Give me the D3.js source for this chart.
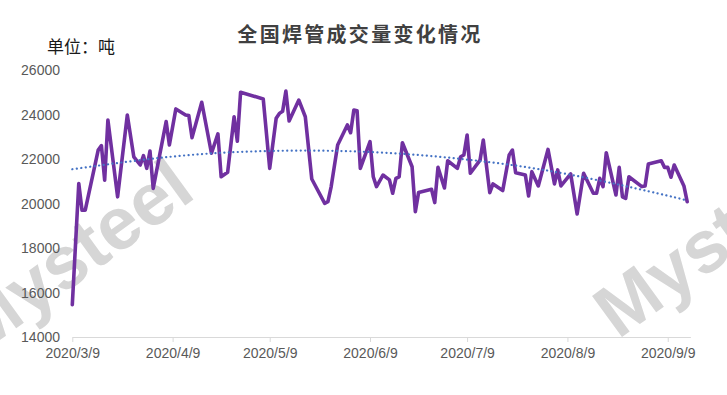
<!DOCTYPE html>
<html>
<head>
<meta charset="utf-8">
<script src="https://cdn.jsdelivr.net/npm/d3@7"></script>
<style>
  html, body { margin: 0; padding: 0; background: #ffffff; }
  svg { display: block; }
</style>
</head>
<body>
<div id="chart"></div>
<script>
// ---------- data ----------
const title = "全国焊管成交量变化情况";
const unitLabel = "单位：吨";
const watermark = "Mysteel";

const dates = [
  "2020-03-09","2020-03-11","2020-03-12","2020-03-13","2020-03-17","2020-03-18","2020-03-19","2020-03-20",
  "2020-03-23","2020-03-26","2020-03-28","2020-03-30","2020-03-31","2020-04-01","2020-04-02","2020-04-03",
  "2020-04-07","2020-04-08","2020-04-10","2020-04-13","2020-04-14","2020-04-15","2020-04-18","2020-04-21",
  "2020-04-23","2020-04-24","2020-04-26","2020-04-28","2020-04-29","2020-04-30","2020-05-07","2020-05-09",
  "2020-05-11","2020-05-12","2020-05-13","2020-05-14","2020-05-15","2020-05-18","2020-05-20","2020-05-22",
  "2020-05-26","2020-05-27","2020-05-28","2020-05-30","2020-06-02","2020-06-03","2020-06-04","2020-06-05",
  "2020-06-06","2020-06-09","2020-06-10","2020-06-11","2020-06-13","2020-06-15","2020-06-16","2020-06-17",
  "2020-06-18","2020-06-19","2020-06-22","2020-06-23","2020-06-24","2020-06-28","2020-06-29","2020-06-30",
  "2020-07-02","2020-07-03","2020-07-06","2020-07-07","2020-07-08","2020-07-09","2020-07-10","2020-07-13",
  "2020-07-14","2020-07-16","2020-07-17","2020-07-20","2020-07-22","2020-07-23","2020-07-24","2020-07-27",
  "2020-07-28","2020-07-29","2020-07-31","2020-08-03","2020-08-05","2020-08-06","2020-08-07","2020-08-10",
  "2020-08-12","2020-08-14","2020-08-17","2020-08-18","2020-08-19","2020-08-20","2020-08-21","2020-08-24",
  "2020-08-25","2020-08-26","2020-08-27","2020-08-28","2020-09-01","2020-09-02","2020-09-03","2020-09-07",
  "2020-09-08","2020-09-09","2020-09-10","2020-09-11","2020-09-14","2020-09-15"
];
const volumes = [
  15450,20900,19700,19700,22400,22600,21050,23750,
  20300,23980,22100,21730,22150,21580,22360,20680,
  23680,22630,24250,23980,23950,22960,24550,22260,
  23130,21200,21400,23900,22800,25000,24700,21580,
  23830,24050,24150,25050,23710,24650,23900,21100,
  20010,20080,20760,22630,23530,23180,24200,24170,
  21580,22780,21200,20760,21280,21060,20460,21130,
  21200,22730,21650,19630,20490,20640,20040,21625,
  20700,21920,21580,22100,22180,23080,21360,21950,
  22850,20490,20880,20580,22180,22400,21385,21280,
  20340,21430,20790,22430,20880,21510,20790,21330,
  19530,21360,20460,20460,21130,20760,22280,20380,
  21625,20300,20230,21200,20760,20790,21775,21920,
  21625,21625,21180,21730,20790,20080
];

// dotted trend line, read at several dates
const trendDates  = ["2020-03-09","2020-04-09","2020-05-09","2020-06-09","2020-07-09","2020-08-09","2020-09-09","2020-09-15"];
const trendValues = [21540,22110,22360,22315,21975,21320,20350,20120];

const yTicks = [14000,16000,18000,20000,22000,24000,26000];
const xTickDates = ["2020-03-09","2020-04-09","2020-05-09","2020-06-09","2020-07-09","2020-08-09","2020-09-09"];
const xDomain = ["2020-03-09","2020-09-16"];

// ---------- drawing ----------
const W = 727, H = 395;
const parse = d3.timeParse("%Y-%m-%d");
const fmt = d3.timeFormat("%Y/%-m/%-d");

const svg = d3.select("#chart").append("svg")
  .attr("width", W).attr("height", H)
  .style("font-family", "Arial, 'Liberation Sans', sans-serif");

const x = d3.scaleTime().domain(xDomain.map(parse)).range([72.3, 690.4]);
const y = d3.scaleLinear().domain([14000, 26000]).range([337, 70]);

// watermarks (behind everything)
const wm = svg.append("g").attr("fill", "#d6d6d6")
  .style("font-family", "Arial, 'Liberation Sans', sans-serif")
  .style("font-weight", "bold").style("font-size", "74px");
wm.append("text").attr("transform", "translate(-22,356) rotate(-36)").text(watermark);
wm.append("text").attr("transform", "translate(618,340) rotate(-36)").text(watermark);

// title
svg.append("text")
  .attr("x", 360).attr("y", 42)
  .attr("text-anchor", "middle")
  .style("font-family", "'Noto Sans CJK SC', sans-serif")
  .style("font-weight", "bold")
  .style("font-size", "20px")
  .style("letter-spacing", "2.3px")
  .attr("fill", "#404040")
  .text(title);

// unit label
svg.append("text")
  .attr("x", 47).attr("y", 53)
  .style("font-family", "'Noto Sans CJK SC', sans-serif")
  .style("font-size", "17px")
  .attr("fill", "#1a1a1a")
  .text(unitLabel);

// y axis (labels only)
const yAxis = d3.axisLeft(y).tickValues(yTicks).tickSize(0).tickPadding(0).tickFormat(d3.format("d"));
const gy = svg.append("g").attr("transform", "translate(60,0)").call(yAxis);
gy.select(".domain").remove();
gy.selectAll("text").style("font-size", "14px").style("font-family", "Arial, 'Liberation Sans', sans-serif")
  .attr("fill", "#595959").attr("dy", "0.35em");

// x axis
const xAxis = d3.axisBottom(x).tickValues(xTickDates.map(parse)).tickSize(5).tickSizeOuter(0).tickPadding(6).tickFormat(fmt);
const gx = svg.append("g").attr("transform", "translate(0,337)").call(xAxis);
gx.select(".domain").attr("stroke", "#d9d9d9").attr("stroke-width", 1);
gx.selectAll(".tick line").attr("stroke", "#d9d9d9");
gx.selectAll("text").style("font-size", "14px").style("font-family", "Arial, 'Liberation Sans', sans-serif")
  .attr("fill", "#595959");

// data line
const series = dates.map((d, i) => ({ date: parse(d), value: volumes[i] }));
const line = d3.line().x(d => x(d.date)).y(d => y(d.value));
svg.append("path").datum(series)
  .attr("d", line)
  .attr("fill", "none")
  .attr("stroke", "#7030A0")
  .attr("stroke-width", 3.6)
  .attr("stroke-linejoin", "round")
  .attr("stroke-linecap", "round");

// trend line
const trend = trendDates.map((d, i) => ({ date: parse(d), value: trendValues[i] }));
const tline = d3.line().curve(d3.curveNatural).x(d => x(d.date)).y(d => y(d.value));
svg.append("path").datum(trend)
  .attr("d", tline)
  .attr("fill", "none")
  .attr("stroke", "#4472C4")
  .attr("stroke-width", 2.2)
  .attr("stroke-linecap", "round")
  .attr("stroke-dasharray", "0.1 4.4");
</script>
</body>
</html>
